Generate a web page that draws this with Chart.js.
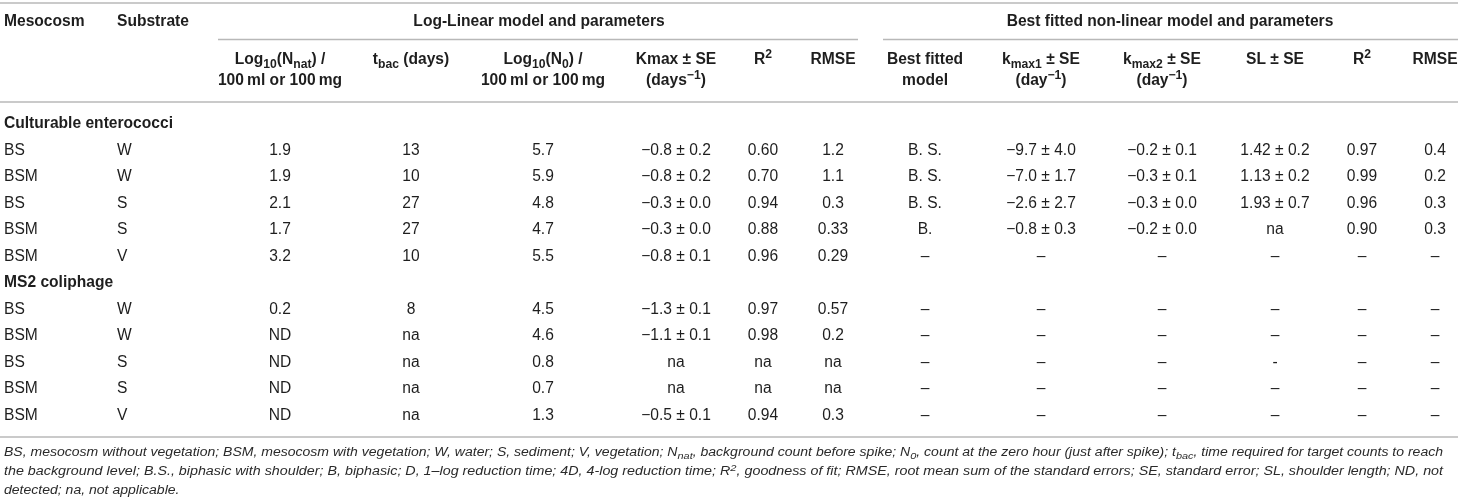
<!DOCTYPE html>
<html>
<head>
<meta charset="utf-8">
<script src="https://cdn.jsdelivr.net/npm/chart.js@4.4.1/dist/chart.umd.min.js"></script>
<style>
  html, body { margin: 0; padding: 0; background: #fff; }
  #wrap { width: 1458px; height: 504px; position: relative; }
</style>
</head>
<body>
<div id="wrap"><canvas id="table-chart"></canvas></div>
<script>
// --- data ---
const groups = ['Culturable enterococci', 'MS2 coliphage'];
const mesocosm = ['BS', 'BSM', 'BS', 'BSM', 'BSM'];
const substrate = ['W', 'W', 'S', 'S', 'V'];

// Culturable enterococci
const entNnat = ['1.9', '1.9', '2.1', '1.7', '3.2'];
const entTbac = ['13', '10', '27', '27', '10'];
const entN0 = ['5.7', '5.9', '4.8', '4.7', '5.5'];
const entKmax = ['−0.8 ± 0.2', '−0.8 ± 0.2', '−0.3 ± 0.0', '−0.3 ± 0.0', '−0.8 ± 0.1'];
const entR2 = ['0.60', '0.70', '0.94', '0.88', '0.96'];
const entRmse = ['1.2', '1.1', '0.3', '0.33', '0.29'];
const entModel = ['B. S.', 'B. S.', 'B. S.', 'B.', '–'];
const entKmax1 = ['−9.7 ± 4.0', '−7.0 ± 1.7', '−2.6 ± 2.7', '−0.8 ± 0.3', '–'];
const entKmax2 = ['−0.2 ± 0.1', '−0.3 ± 0.1', '−0.3 ± 0.0', '−0.2 ± 0.0', '–'];
const entSL = ['1.42 ± 0.2', '1.13 ± 0.2', '1.93 ± 0.7', 'na', '–'];
const entR2nl = ['0.97', '0.99', '0.96', '0.90', '–'];
const entRmseNl = ['0.4', '0.2', '0.3', '0.3', '–'];

// MS2 coliphage
const ms2Nnat = ['0.2', 'ND', 'ND', 'ND', 'ND'];
const ms2Tbac = ['8', 'na', 'na', 'na', 'na'];
const ms2N0 = ['4.5', '4.6', '0.8', '0.7', '1.3'];
const ms2Kmax = ['−1.3 ± 0.1', '−1.1 ± 0.1', 'na', 'na', '−0.5 ± 0.1'];
const ms2R2 = ['0.97', '0.98', 'na', 'na', '0.94'];
const ms2Rmse = ['0.57', '0.2', 'na', 'na', '0.3'];
const ms2Model = ['–', '–', '–', '–', '–'];
const ms2Kmax1 = ['–', '–', '–', '–', '–'];
const ms2Kmax2 = ['–', '–', '–', '–', '–'];
const ms2SL = ['–', '–', '-', '–', '–'];
const ms2R2nl = ['–', '–', '–', '–', '–'];
const ms2RmseNl = ['–', '–', '–', '–', '–'];

const groupHeaders = ['Log-Linear model and parameters', 'Best fitted non-linear model and parameters'];
const colHeaders = [
  ['Mesocosm'], ['Substrate'],
  ['Log_{10}(N_{nat}) /', '100\u2009ml or 100\u2009mg'],
  ['t_{bac} (days)'],
  ['Log_{10}(N_{0}) /', '100\u2009ml or 100\u2009mg'],
  ['Kmax ± SE', '(days^{−1})'],
  ['R^{2}'], ['RMSE'],
  ['Best fitted', 'model'],
  ['k_{max1} ± SE', '(day^{−1})'],
  ['k_{max2} ± SE', '(day^{−1})'],
  ['SL ± SE'], ['R^{2}'], ['RMSE']
];
const footnotes = [
  'BS, mesocosm without vegetation; BSM, mesocosm with vegetation; W, water; S, sediment; V, vegetation; N_{nat}, background count before spike; N_{0}, count at the zero hour (just after spike); t_{bac}, time required for target counts to reach',
  'the background level; B.S., biphasic with shoulder; B, biphasic; D, 1–log reduction time; 4D, 4-log reduction time; R^{2}, goodness of fit; RMSE, root mean sum of the standard errors; SE, standard error; SL, shoulder length; ND, not',
  'detected; na, not applicable.'
];

const tableRows = [
  [entNnat, entTbac, entN0, entKmax, entR2, entRmse, entModel, entKmax1, entKmax2, entSL, entR2nl, entRmseNl],
  [ms2Nnat, ms2Tbac, ms2N0, ms2Kmax, ms2R2, ms2Rmse, ms2Model, ms2Kmax1, ms2Kmax2, ms2SL, ms2R2nl, ms2RmseNl]
];

// row keys for the y (category) scale
const rowKeys = [];
groups.forEach((g, gi) => {
  rowKeys.push('g' + gi);
  mesocosm.forEach((m, ri) => rowKeys.push('g' + gi + 'r' + ri));
});

// --- layout ---
const FAMILY = '"Liberation Sans", Arial, Helvetica, sans-serif';
const TEXT = '#1e1e1e';
const RULE = '#b8b8b8';
const HEAD = 15.6;
const BODY = 15.6;
const colX = [4, 117, 280, 411, 543, 676, 763, 833, 925, 1041, 1162, 1275, 1362, 1435];

function parseRich(str) {
  const segs = [];
  const re = /([_^])\{([^}]*)\}/g;
  let last = 0, m;
  while ((m = re.exec(str))) {
    if (m.index > last) segs.push({ t: str.slice(last, m.index), k: '' });
    segs.push({ t: m[2], k: m[1] });
    last = re.lastIndex;
  }
  if (last < str.length) segs.push({ t: str.slice(last), k: '' });
  return segs;
}

function richWidth(ctx, str, size, weight, style) {
  let w = 0;
  parseRich(str).forEach(s => {
    ctx.font = `${style || 'normal'} ${weight || 'normal'} ${s.k ? size * 0.78 : size}px ${FAMILY}`;
    w += ctx.measureText(s.t).width;
  });
  return w;
}

function drawRich(ctx, str, x, y, align, size, weight, style) {
  const segs = parseRich(str);
  const mk = k => `${style || 'normal'} ${weight || 'normal'} ${k ? size * 0.78 : size}px ${FAMILY}`;
  let w = 0;
  segs.forEach(s => { ctx.font = mk(s.k); s.w = ctx.measureText(s.t).width; w += s.w; });
  let cx = align === 'center' ? x - w / 2 : x;
  ctx.textAlign = 'left';
  ctx.textBaseline = 'middle';
  segs.forEach(s => {
    ctx.font = mk(s.k);
    const dy = s.k === '_' ? size * 0.28 : s.k === '^' ? -size * 0.32 : 0;
    ctx.fillText(s.t, cx, y + dy);
    cx += s.w;
  });
}

function rule(ctx, x1, x2, y) {
  ctx.beginPath();
  ctx.moveTo(x1, y);
  ctx.lineTo(x2, y);
  ctx.stroke();
}

const tablePlugin = {
  id: 'tableDraw',
  afterDraw(chart) {
    const ctx = chart.ctx;
    const xs = chart.scales.x;
    const ys = chart.scales.y;
    const X = v => xs.getPixelForValue(v);
    ctx.save();
    ctx.fillStyle = TEXT;
    ctx.strokeStyle = RULE;
    ctx.lineWidth = 1.5;

    // rules
    rule(ctx, X(0), X(1458), 3);
    rule(ctx, X(218), X(858), 39.5);
    rule(ctx, X(883), X(1458), 39.5);
    rule(ctx, X(0), X(1458), 102);
    rule(ctx, X(0), X(1458), 437);

    // header
    drawRich(ctx, colHeaders[0][0], X(colX[0]), 22, 'left', HEAD, 'bold');
    drawRich(ctx, colHeaders[1][0], X(colX[1]), 22, 'left', HEAD, 'bold');
    drawRich(ctx, groupHeaders[0], X(539), 22, 'center', HEAD, 'bold');
    drawRich(ctx, groupHeaders[1], X(1170), 22, 'center', HEAD, 'bold');
    for (let c = 2; c < colHeaders.length; c++) {
      colHeaders[c].forEach((line, li) => {
        drawRich(ctx, line, X(colX[c]), 60 + li * 20.5, 'center', HEAD, 'bold');
      });
    }

    // body
    groups.forEach((g, gi) => {
      drawRich(ctx, g, X(colX[0]), ys.getPixelForValue(rowKeys.indexOf('g' + gi)), 'left', HEAD, 'bold');
      mesocosm.forEach((m, ri) => {
        const y = ys.getPixelForValue(rowKeys.indexOf('g' + gi + 'r' + ri));
        drawRich(ctx, m, X(colX[0]), y, 'left', BODY);
        drawRich(ctx, substrate[ri], X(colX[1]), y, 'left', BODY);
        tableRows[gi].forEach((col, ci) => {
          drawRich(ctx, col[ri], X(colX[ci + 2]), y, 'center', BODY);
        });
      });
    });

    // footnotes, first two lines justified to the table width
    ctx.fillStyle = '#2a2a2a';
    const fs = 12.5;
    const full = X(1443) - X(4);
    const s1 = full / richWidth(ctx, footnotes[0], fs, 'normal', 'italic');
    footnotes.forEach((f, i) => {
      const s = i < 2 ? full / richWidth(ctx, f, fs, 'normal', 'italic') : s1;
      ctx.save();
      ctx.translate(X(4), 0);
      ctx.scale(s, 1);
      drawRich(ctx, f, 0, 453 + i * 19, 'left', fs, 'normal', 'italic');
      ctx.restore();
    });
    ctx.restore();
  }
};

new Chart(document.getElementById('table-chart'), {
  type: 'scatter',
  data: { datasets: [] },
  options: {
    responsive: true,
    maintainAspectRatio: false,
    animation: false,
    devicePixelRatio: 1,
    layout: { padding: { top: 110.75, bottom: 75.25, left: 0, right: 0 } },
    plugins: { legend: { display: false }, tooltip: { enabled: false } },
    scales: {
      x: { type: 'linear', min: 0, max: 1458, display: false },
      y: { type: 'category', labels: rowKeys, offset: true, display: false }
    }
  },
  plugins: [tablePlugin]
});
</script>
</body>
</html>
